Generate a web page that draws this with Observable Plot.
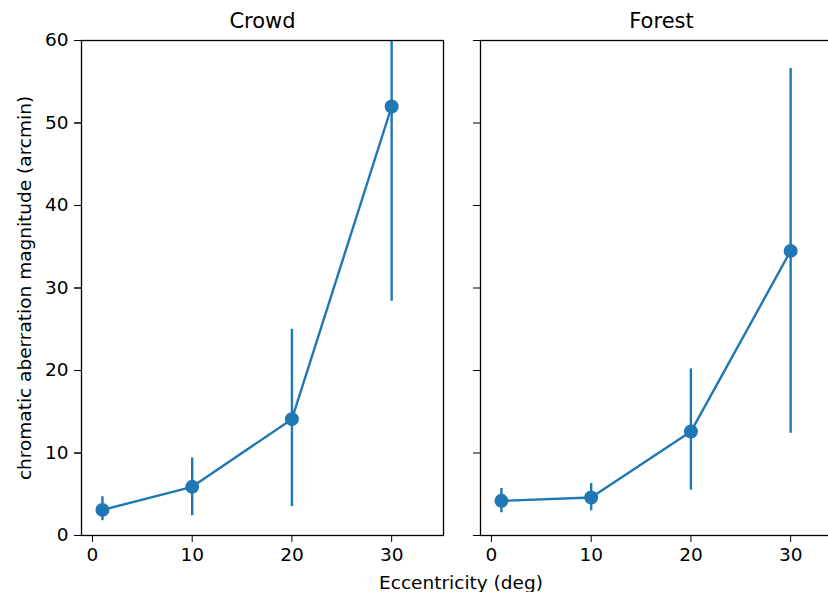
<!DOCTYPE html>
<html>
<head>
<meta charset="utf-8">
<script src="https://cdn.jsdelivr.net/npm/d3@7"></script>
<script src="https://cdn.jsdelivr.net/npm/@observablehq/plot@0.6"></script>
<style>
  html, body { margin: 0; padding: 0; background: white; overflow: hidden; }
  #wrap { width: 828px; height: 592px; overflow: hidden; position: relative; }
  #wrap svg { max-width: none !important; width: 842px; height: 592px; display: block; }
</style>
</head>
<body>
<div id="wrap"></div>
<script>
const scenes = ["Crowd", "Forest"];
const eccentricity = [1, 10, 20, 30];
const crowdMean = [3.1, 5.9, 14.1, 52.0];
const crowdLow = [1.8, 2.4, 3.5, 28.4];
const crowdHigh = [4.7, 9.4, 25.0, 62.0];
const forestMean = [4.2, 4.6, 12.6, 34.5];
const forestLow = [2.75, 3.0, 5.5, 12.4];
const forestHigh = [5.7, 6.3, 20.2, 56.6];
const xTicks = [0, 10, 20, 30];
const yTicks = [0, 10, 20, 30, 40, 50, 60];
const xLabel = "Eccentricity (deg)";
const yLabel = "chromatic aberration magnitude (arcmin)";

const rows = [];
const series = {Crowd: [crowdMean, crowdLow, crowdHigh], Forest: [forestMean, forestLow, forestHigh]};
for (const s of scenes) {
  const [m, lo, hi] = series[s];
  eccentricity.forEach((e, i) => rows.push({scene: s, ecc: e, mean: m[i], lo: lo[i], hi: hi[i]}));
}

const blue = "#1f77b4";
const font = "DejaVu Sans";

const chart = Plot.plot({
  width: 842,
  height: 592,
  marginLeft: 81,
  marginRight: 0,
  marginTop: 40,
  marginBottom: 57,
  style: {fontFamily: font, fontSize: "18.5px", color: "black", background: "white", maxWidth: "none"},
  fx: {domain: scenes, paddingInner: 0.0927, paddingOuter: 0, round: false},
  x: {domain: [-1.1, 35.2]},
  y: {domain: [0, 60]},
  marks: [
    Plot.ruleX(rows, {fx: "scene", x: "ecc", y1: "lo", y2: "hi", stroke: blue, strokeWidth: 2.4, clip: true}),
    Plot.line(rows, {fx: "scene", x: "ecc", y: "mean", stroke: blue, strokeWidth: 2.4}),
    Plot.dot(rows, {fx: "scene", x: "ecc", y: "mean", r: 7, fill: blue}),
    Plot.frame({stroke: "black", strokeWidth: 1.3}),
    Plot.axisFx({anchor: "top", tickSize: 0, tickPadding: 13, label: null, fontSize: 21}),
    Plot.axisX({ticks: xTicks, tickSize: 7, tickPadding: 5, label: null, fontSize: 18.5}),
    Plot.axisY({ticks: yTicks, tickSize: 7, tickPadding: 6, label: null, fontSize: 18.5}),
    Plot.axisY({ticks: yTicks, tickSize: 7, tickFormat: () => "", label: null, facetAnchor: null})
  ]
});

const svg = d3.select(chart.tagName.toLowerCase() === "svg" ? chart : chart.querySelector("svg"));
svg.append("text")
  .attr("x", 461).attr("y", 589)
  .attr("text-anchor", "middle")
  .attr("font-family", font).attr("font-size", 18.5).attr("fill", "black")
  .text(xLabel);
svg.append("text")
  .attr("transform", "translate(24,288) rotate(-90)")
  .attr("text-anchor", "middle").attr("dominant-baseline", "central")
  .attr("font-family", font).attr("font-size", 18.5).attr("fill", "black")
  .text(yLabel);

document.getElementById("wrap").appendChild(chart);
</script>
</body>
</html>
